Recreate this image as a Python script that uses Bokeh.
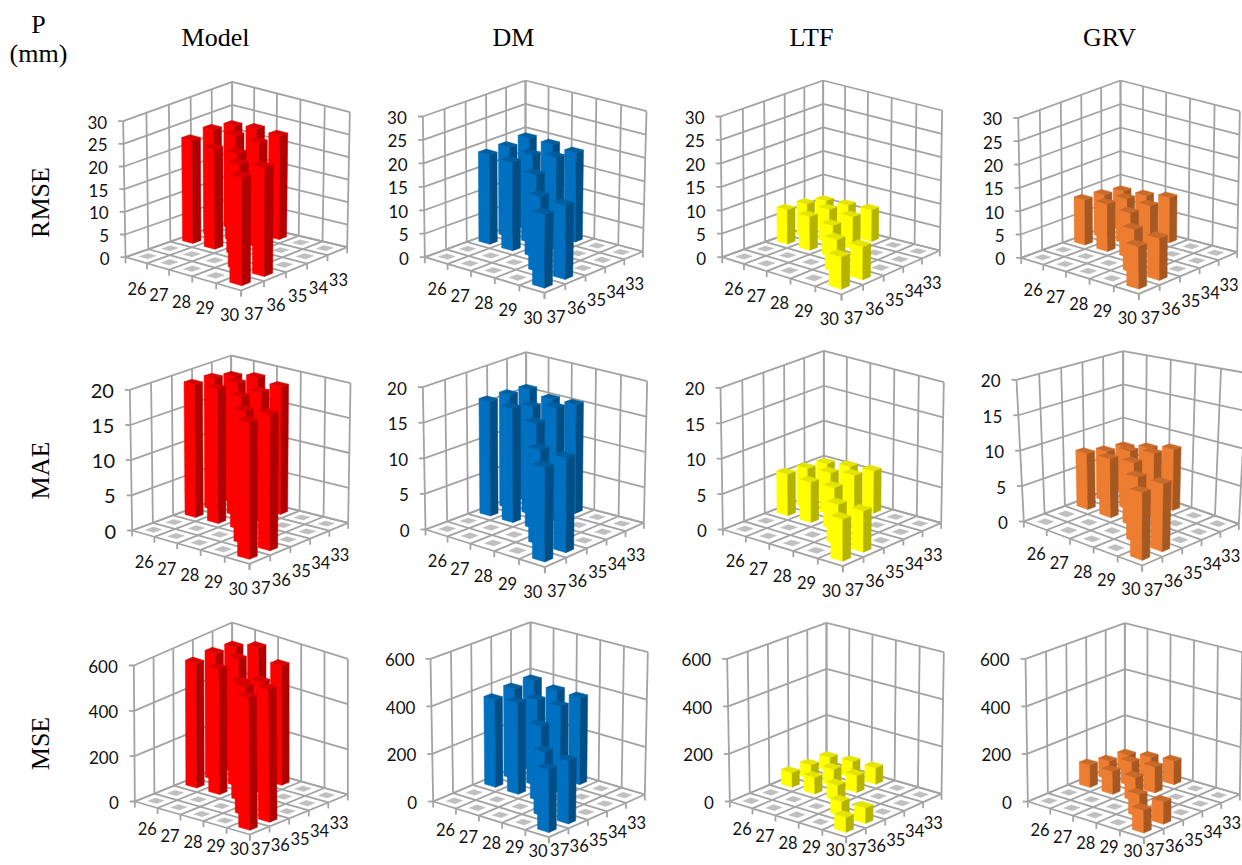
import numpy as np
from bokeh.plotting import figure
from bokeh.models import Range1d, ColumnDataSource
from bokeh.core.properties import value
from bokeh.embed import file_html
from bokeh.resources import INLINE

# ---- data ----
x_labels = [26, 27, 28, 29, 30]
y_labels = [37, 36, 35, 34, 33]
bar_x = [26, 26, 26, 27, 27, 27, 28, 28, 28, 29, 30, 30]
bar_y = [35, 34, 33, 35, 34, 33, 35, 34, 33, 36, 37, 36]

rmse_ticks = [0, 5, 10, 15, 20, 25, 30]
mae_ticks = [0, 5, 10, 15, 20]
mse_ticks = [0, 200, 400, 600]

rmse_model = [22.6, 23.2, 22.4, 22.0, 23.2, 23.0, 22.5, 23.0, 22.8, 23.4, 24.3, 24.4]
rmse_dm = [19.1, 19.2, 19.6, 18.9, 18.9, 19.5, 17.6, 19.7, 19.1, 16.1, 15.6, 15.8]
rmse_ltf = [7.3, 7.0, 6.2, 7.2, 7.1, 6.5, 6.7, 6.9, 6.8, 7.0, 6.9, 7.1]
rmse_grv = [9.6, 9.1, 8.4, 10.1, 9.6, 8.7, 9.6, 9.5, 9.6, 9.3, 9.1, 9.0]

mae_model = [19.0, 18.9, 18.2, 19.2, 19.0, 18.8, 18.9, 18.5, 18.3, 18.8, 19.3, 19.3]
mae_dm = [16.2, 16.1, 15.9, 16.1, 15.3, 15.3, 14.9, 16.0, 15.4, 13.3, 13.1, 13.2]
mae_ltf = [5.9, 5.6, 5.2, 5.7, 5.9, 5.7, 5.9, 6.5, 6.0, 5.7, 5.9, 5.8]
mae_grv = [8.0, 7.3, 6.9, 8.2, 8.3, 7.7, 8.6, 8.9, 8.5, 8.6, 8.6, 8.7]

mse_model = [544, 550, 540, 551, 557, 569, 522, 487, 522, 575, 598, 597]
mse_dm = [373, 386, 389, 386, 365, 373, 316, 366, 369, 269, 259, 260]
mse_ltf = [62, 60, 58, 70, 70, 68, 66, 72, 70, 62, 62, 65]
mse_grv = [95, 78, 70, 96, 102, 88, 100, 110, 100, 92, 94, 92]

col_titles = ["Model", "DM", "LTF", "GRV"]
row_titles = ["RMSE", "MAE", "MSE"]

# ---- styles ----
SER = {
    "Model": ("#ff0000", "#b00000", "#d80000"),
    "DM": ("#0070c0", "#004e86", "#005d9f"),
    "LTF": ("#ffff00", "#b3b300", "#e4e400"),
    "GRV": ("#ed7d31", "#a65822", "#c9692a"),
}
GRID = "#a3a3a3"
DIAMOND = "#bfbfbf"
LABEL_KNEE = 842

# ---- layout: crop offset, then floor L,F,R,B and wall tops TL,TR,TB (3x zoomed px) ----
GEOM = [
    ("Model", "RMSE", rmse_model, rmse_ticks, (100, 90), (75, 500), (422, 600), (740, 470), (395, 389), (68, 92), (748, 65), (395, -26), 17),
    ("DM", "RMSE", rmse_dm, rmse_ticks, (390, 90), (103, 500), (462, 607), (757, 483), (405, 390), (97, 78), (768, 62), (405, -30), 17),
    ("LTF", "RMSE", rmse_ltf, rmse_ticks, (680, 90), (125, 500), (483, 612), (778, 480), (428, 392), (120, 78), (785, 60), (428, -30), 17),
    ("GRV", "RMSE", rmse_grv, rmse_ticks, (970, 90), (152, 502), (505, 610), (800, 485), (450, 393), (143, 82), (808, 62), (450, -30), 17),
    ("Model", "MAE", mae_model, mae_ticks, (100, 360), (95, 510), (447, 610), (743, 487), (392, 400), (88, 88), (750, 68), (392, -15), 20),
    ("DM", "MAE", mae_dm, mae_ticks, (390, 360), (105, 507), (463, 620), (760, 487), (407, 395), (97, 80), (770, 62), (407, -25), 17),
    ("LTF", "MAE", mae_ltf, mae_ticks, (680, 360), (127, 507), (487, 617), (782, 487), (430, 390), (120, 82), (790, 65), (430, -29), 17),
    ("GRV", "MAE", mae_grv, mae_ticks, (970, 360), (160, 483), (515, 615), (805, 490), (458, 370), (138, 58), (830, 38), (458, -28), 17),
    ("Model", "MSE", mse_model, mse_ticks, (100, 630), (103, 513), (448, 612), (742, 492), (395, 395), (100, 105), (742, 85), (395, -24), 17),
    ("DM", "MSE", mse_dm, mse_ticks, (390, 630), (128, 513), (475, 620), (763, 492), (420, 390), (120, 85), (772, 65), (420, -25), 17),
    ("LTF", "MSE", mse_ltf, mse_ticks, (680, 630), (148, 513), (497, 620), (783, 490), (438, 391), (140, 85), (790, 65), (438, -23), 17),
    ("GRV", "MSE", mse_grv, mse_ticks, (970, 630), (172, 513), (520, 622), (808, 492), (463, 392), (165, 85), (815, 65), (463, -22), 17),
]


def homography(L, F, R, B):
    src = [(0, 0), (1, 0), (1, 1), (0, 1)]
    dst = [L, F, R, B]
    A, b = [], []
    for (u, v), (x, y) in zip(src, dst):
        A.append([u, v, 1, 0, 0, 0, -u * x, -v * x])
        A.append([0, 0, 0, u, v, 1, -u * y, -v * y])
        b += [x, y]
    h = np.linalg.solve(np.array(A, float), np.array(b, float))
    return np.append(h, 1).reshape(3, 3)


def apply(H, u, v):
    w = H @ np.array([u, v, 1.0])
    return np.array([w[0] / w[2], w[1] / w[2]])


def soft_limit(y):
    return y if y <= LABEL_KNEE else LABEL_KNEE + (y - LABEL_KNEE) * 0.5


p = figure(width=1242, height=865, x_range=Range1d(0, 1242), y_range=Range1d(865, 0),
           x_axis_type=None, y_axis_type=None, toolbar_location=None,
           output_backend="svg", min_border=0, outline_line_color=None,
           background_fill_color="white", border_fill_color="white")
p.grid.visible = False

lx, ly = [], []
px, py, pc = [], [], []
txt = {"x": [], "y": [], "t": [], "s": [], "a": []}


def seg(a, b):
    lx.append([float(a[0]), float(b[0])])
    ly.append([float(a[1]), float(b[1])])


def label(x, y, t, size, align):
    txt["x"].append(float(x)); txt["y"].append(float(y)); txt["t"].append(str(t))
    txt["s"].append(f"{size}px"); txt["a"].append(align)


DU, DV = 0.24 / 5, 0.19 / 5
GU = 0.19 / 5

for name, metric, vals, ticks, off, L, F, R, B, TL, TR, TB, fs in GEOM:
    ox, oy = off
    conv = lambda q: (ox + q[0] / 3, oy + q[1] / 3)
    L, F, R, B, TL, TR, TB = [np.array(conv(q)) for q in (L, F, R, B, TL, TR, TB)]
    TF = F + (TL - L) + (TR - R) - (TB - B)
    Hf = homography(L, F, R, B)
    Ht = homography(TL, TF, TR, TB)
    zmax = ticks[-1]
    drop = 24 if metric == "MSE" else 28

    def P(u, v, z=0.0):
        a = apply(Hf, u, v)
        return a + (apply(Ht, u, v) - a) * (z / zmax)

    # walls
    for z in ticks:
        seg(P(0, 0, z), P(0, 1, z))
        seg(P(0, 1, z), P(1, 1, z))
        a = P(0, 0, z)
        seg(a, a + np.array([-5, 0]))
        label(a[0] - 16, a[1] + 1, z, fs, "right")
    for k in range(6):
        seg(P(0, k / 5), P(0, k / 5, zmax))
        seg(P(k / 5, 1), P(k / 5, 1, zmax))
    # floor
    for k in range(6):
        seg(P(k / 5, 0), P(k / 5, 1))
        seg(P(0, k / 5), P(1, k / 5))
        a = P(k / 5, 0)
        seg(a, a + np.array([0, 6]))
        a = P(1, k / 5)
        seg(a, a + np.array([0, 6]))
    for k in range(5):
        a = P((k + .5) / 5, 0)
        label(a[0] + 1, soft_limit(a[1] + drop), x_labels[k], 16.5, "center")
        a = P(1, (k + .5) / 5)
        label(a[0] + 1, soft_limit(a[1] + drop), y_labels[k], 16.5, "center")

    bars = {(bar_x[n], bar_y[n]): vals[n] for n in range(len(vals))}
    face, side, top = SER[name]
    cells = sorted(((i, j) for i in range(5) for j in range(5)), key=lambda c: c[0] - c[1])
    for i, j in cells:
        u, v = (i + .5) / 5, (j + .5) / 5
        val = bars.get((x_labels[i], y_labels[j]))
        if val is None:
            q = [P(u - GU, v - GU), P(u + GU, v - GU), P(u + GU, v + GU), P(u - GU, v + GU)]
            px.append([float(c[0]) for c in q]); py.append([float(c[1]) for c in q]); pc.append(DIAMOND)
            continue
        c00 = (u - DU, v - DV); c10 = (u + DU, v - DV); c11 = (u + DU, v + DV); c01 = (u - DU, v + DV)
        for poly, col in (
            ([P(*c00), P(*c10), P(*c10, val), P(*c00, val)], face),
            ([P(*c10), P(*c11), P(*c11, val), P(*c10, val)], side),
            ([P(*c00, val), P(*c10, val), P(*c11, val), P(*c01, val)], top),
        ):
            px.append([float(c[0]) for c in poly]); py.append([float(c[1]) for c in poly]); pc.append(col)

p.multi_line(lx, ly, line_color=GRID, line_width=1.8)
p.patches("x", "y", fill_color="c", line_color="c", line_width=0.5,
          source=ColumnDataSource(dict(x=px, y=py, c=pc)))
p.text("x", "y", text="t", text_font=value("Lato"), text_font_size="s", text_align="a",
       text_baseline="middle", text_color="#111111", source=ColumnDataSource(txt))

# headers
col_x = [215, 513, 811, 1109]
p.text(col_x, [37] * 4, text=col_titles, text_font=value("Liberation Serif"), text_font_size=value("26px"),
       text_align="center", text_baseline="middle", text_color="#000000")
p.text([38, 38], [24, 53], text=["P", "(mm)"], text_font=value("Liberation Serif"), text_font_size=value("26px"),
       text_align="center", text_baseline="middle", text_color="#000000")
p.text([40, 40, 40], [202, 470, 743], text=row_titles, angle=np.pi / 2, text_font=value("Liberation Serif"),
       text_font_size=value("26px"), text_align="center", text_baseline="middle", text_color="#000000")

open("out.html", "w").write(file_html(p, INLINE))
